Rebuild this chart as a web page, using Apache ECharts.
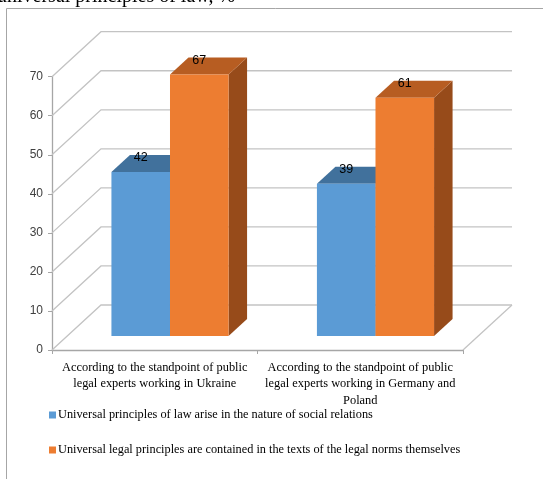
<!DOCTYPE html>
<html><head><meta charset="utf-8">
<script src="https://cdn.jsdelivr.net/npm/echarts@6/dist/echarts.min.js"></script>
<style>html,body{margin:0;padding:0;background:#fff;overflow:hidden}#c{width:543px;height:479px}</style>
</head><body><div id="c"></div>
<script>
const titleText = 'universal principles of law, %';
const categories = [
  'According to the standpoint of public\nlegal experts working in Ukraine',
  'According to the standpoint of public\nlegal experts working in Germany and\nPoland'
];
const seriesNames = [
  'Universal principles of law arise in the nature of social relations',
  'Universal legal principles are contained in the texts of the legal norms themselves'
];
const socialRelations = [42, 39];
const legalTexts = [67, 61];
const yTicks = [0, 10, 20, 30, 40, 50, 60, 70];

const DX = 49, DY = -45;       // wall depth
const F1 = 14 / 45, F2 = 31 / 45; // bar front/back depth fractions
const BAR_FRAC = 0.285;

function wallItem(params, api) {
  const cs = params.coordSys;
  const v = api.value(1);
  const y = api.coord([0, v])[1];
  const x0 = cs.x, x1 = cs.x + cs.width;
  const style = { stroke: '#c3c3c3', lineWidth: 1.3, fill: null };
  const children = [{ type: 'polyline', shape: { points: [[x0, y], [x0 + DX, y + DY], [x1 + DX, y + DY]] }, style }];
  if (v === 0) children.push({ type: 'line', shape: { x1: x1, y1: y, x2: x1 + DX, y2: y + DY }, style });
  return { type: 'group', children };
}

function barItem(side, colors) {
  return function (params, api) {
    const ci = api.value(0), v = api.value(1);
    const base = api.coord([ci, 0]);
    const top = api.coord([ci, v]);
    const band = api.size([1, 0])[0];
    const w = band * BAR_FRAC;
    const cx = base[0] + F1 * DX;
    const xa = side === 0 ? cx - w : cx;
    const xb = xa + w;
    const yb = base[1] + F1 * DY, yt = top[1] + F1 * DY;
    const ddx = (F2 - F1) * DX, ddy = (F2 - F1) * DY;
    return { type: 'group', children: [
      { type: 'polygon', shape: { points: [[xb, yt], [xb + ddx, yt + ddy], [xb + ddx, yb + ddy], [xb, yb]] }, style: { fill: colors.side } },
      { type: 'polygon', shape: { points: [[xa, yt], [xb, yt], [xb + ddx, yt + ddy], [xa + ddx, yt + ddy]] }, style: { fill: colors.top } },
      { type: 'rect', shape: { x: xa, y: yt, width: w, height: yb - yt }, style: { fill: colors.front } },
      { type: 'text', x: (xa + xb) / 2, y: yt - 14, style: { text: String(v), fill: '#000', font: '12.5px "Liberation Sans"', align: 'center', verticalAlign: 'middle' } }
    ] };
  };
}

const blue = { front: '#5B9BD5', top: '#41719C', side: '#3A6791' };
const orange = { front: '#ED7D31', top: '#B75D22', side: '#974B1A' };

const chart = echarts.init(document.getElementById('c'), null, { renderer: 'canvas' });
chart.setOption({
  animation: false,
  graphic: [
    { type: 'rect', shape: { x: 6.5, y: 8.5, width: 600, height: 520 }, style: { fill: null, stroke: '#a6a6a6', lineWidth: 1 }, z: -10 },
    { type: 'text', x: -3, y: -3, style: { text: titleText, font: '20px "Liberation Serif"', fill: '#000', align: 'left', verticalAlign: 'middle' } }
  ],
  legend: {
    data: seriesNames, orient: 'vertical', left: 44, top: 404, itemGap: 23,
    itemWidth: 7, itemHeight: 7, icon: 'rect',
    textStyle: { fontFamily: 'Liberation Serif', fontSize: 12.3, color: '#000', padding: [0, 0, 0, -3] }
  },
  grid: { left: 52, right: 80, top: 76.7, bottom: 129 },
  xAxis: {
    type: 'category', data: categories,
    axisLine: { lineStyle: { color: '#a6a6a6', width: 1.3 } },
    axisTick: { show: true, length: 4, lineStyle: { color: '#a6a6a6' } },
    axisLabel: { interval: 0, margin: 9, fontFamily: 'Liberation Serif', fontSize: 12.4, lineHeight: 16.5, color: '#000' }
  },
  yAxis: {
    type: 'value', min: 0, max: 70, interval: 10,
    axisLine: { show: true, lineStyle: { color: '#a6a6a6', width: 1.3 } },
    axisTick: { show: true, length: 4, lineStyle: { color: '#a6a6a6' } },
    splitLine: { show: false },
    axisLabel: { margin: 9, fontFamily: 'Liberation Sans', fontSize: 12, color: '#404040' }
  },
  series: [
    { type: 'custom', name: 'walls', silent: true, renderItem: wallItem, data: yTicks.map(v => [0, v]), z: 1 },
    { type: 'custom', name: seriesNames[0], itemStyle: { color: blue.front }, renderItem: barItem(0, blue), data: socialRelations.map((v, i) => [i, v]), z: 2 },
    { type: 'custom', name: seriesNames[1], itemStyle: { color: orange.front }, renderItem: barItem(1, orange), data: legalTexts.map((v, i) => [i, v]), z: 3 }
  ]
});
</script></body></html>
